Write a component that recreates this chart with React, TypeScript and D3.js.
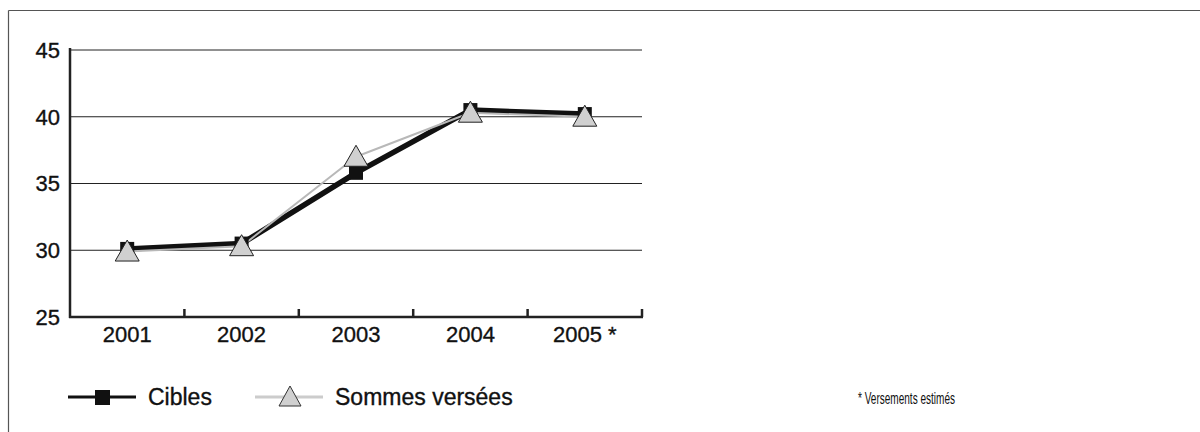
import React from "react";
import * as d3 from "d3";

const years = ["2001", "2002", "2003", "2004", "2005 *"];
const cibles = [30.1, 30.5, 35.8, 40.5, 40.2];
const sommes = [29.9, 30.3, 37.0, 40.3, 40.0];
const yTicks = [25, 30, 35, 40, 45];
const legendLabels = ["Cibles", "Sommes versées"];
const footnote = "* Versements estimés";

const FONT = "'Liberation Sans', Arial, Helvetica, sans-serif";

export default function App() {
  const x = d3.scaleBand<string>().domain(years).range([70, 642]).padding(0);
  const y = d3.scaleLinear().domain([25, 45]).range([317, 50]);
  const cx = (i: number) => (x(years[i]) as number) + x.bandwidth() / 2;

  const line = d3
    .line<number>()
    .x((_, i) => cx(i))
    .y((d) => y(d));

  const tri = (px: number, py: number, w: number, h: number) =>
    `M${px},${py - h * 0.55} L${px + w / 2},${py + h * 0.45} L${px - w / 2},${py + h * 0.45} Z`;

  const boundaries = years.map((_, i) => (x(years[i]) as number) + x.bandwidth());

  const textStyle = { stroke: "#111", strokeWidth: 0.35 } as React.CSSProperties;

  return (
    <svg
      width={1200}
      height={432}
      style={{ position: "absolute", left: 0, top: 0, background: "#fff" }}
    >
      {/* frame */}
      <line x1={8.5} y1={10.5} x2={1200} y2={10.5} stroke="#555" strokeWidth={1.2} />
      <line x1={8.5} y1={10.5} x2={8.5} y2={432} stroke="#555" strokeWidth={1.2} />

      {/* grid */}
      {yTicks
        .filter((t) => t !== 25)
        .map((t) => (
          <line key={t} x1={70} x2={642} y1={y(t)} y2={y(t)} stroke="#222" strokeWidth={1} />
        ))}

      {/* axes */}
      <line x1={70} x2={70} y1={y(45) - 2} y2={y(25) + 1} stroke="#222" strokeWidth={2.5} />
      <line x1={69} x2={643} y1={y(25)} y2={y(25)} stroke="#222" strokeWidth={2.5} />
      {boundaries.map((b, i) => (
        <line key={i} x1={b} x2={b} y1={y(25)} y2={y(25) - 8} stroke="#222" strokeWidth={2.5} />
      ))}

      {/* y labels */}
      {yTicks.map((t) => (
        <text
          key={t}
          x={60}
          y={y(t)}
          dy="0.36em"
          textAnchor="end"
          fontFamily={FONT}
          fontSize={22}
          fill="#111"
          style={textStyle}
        >
          {t}
        </text>
      ))}

      {/* x labels */}
      {years.map((yr, i) => (
        <text
          key={yr}
          x={cx(i)}
          y={342}
          textAnchor="middle"
          fontFamily={FONT}
          fontSize={22}
          fill="#111"
          style={textStyle}
        >
          {yr}
        </text>
      ))}

      {/* lines */}
      <path d={line(cibles) || ""} fill="none" stroke="#111" strokeWidth={5.5} strokeLinejoin="round" />
      <path d={line(sommes) || ""} fill="none" stroke="#b8b8b8" strokeWidth={2} strokeLinejoin="round" />

      {/* markers */}
      {cibles.map((v, i) => (
        <rect key={"c" + i} x={cx(i) - 7} y={y(v) - 7} width={14} height={14} fill="#111" />
      ))}
      {sommes.map((v, i) => (
        <path
          key={"s" + i}
          d={tri(cx(i), y(v), 24, 21)}
          fill="#d0d0d0"
          stroke="#222"
          strokeWidth={1}
        />
      ))}

      {/* legend */}
      <line x1={68} x2={136} y1={397} y2={397} stroke="#111" strokeWidth={3} />
      <rect x={95} y={390} width={15} height={15} fill="#111" />
      <text x={148} y={405} fontFamily={FONT} fontSize={23} fill="#111" style={textStyle}>
        {legendLabels[0]}
      </text>
      <line x1={255} x2={323} y1={397} y2={397} stroke="#ccc" strokeWidth={3} />
      <path d={tri(290, 397, 22, 20)} fill="#d0d0d0" stroke="#333" strokeWidth={1} />
      <text x={335} y={405} fontFamily={FONT} fontSize={23} fill="#111" style={textStyle}>
        {legendLabels[1]}
      </text>

      <text
        x={858}
        y={404}
        fontFamily={FONT}
        fontSize={16.5}
        fill="#111"
        textLength={97}
        lengthAdjust="spacingAndGlyphs"
      >
        {footnote}
      </text>
    </svg>
  );
}
